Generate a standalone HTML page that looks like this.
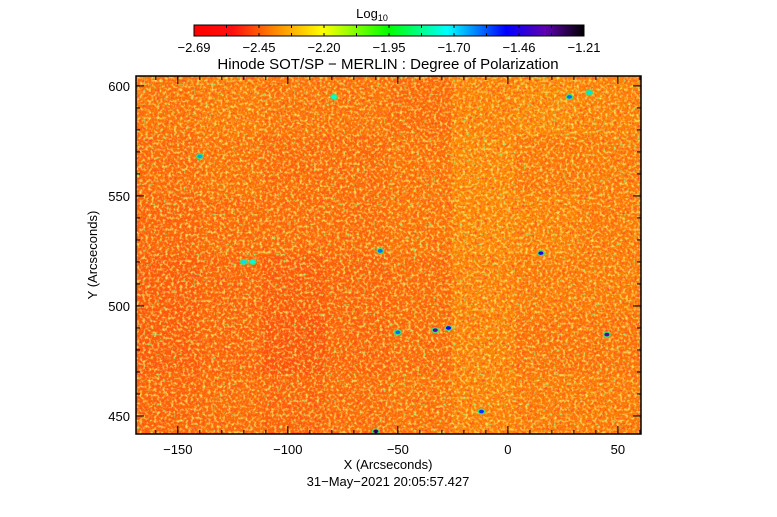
<!DOCTYPE html>
<html><head><meta charset="utf-8"><style>
body{margin:0;background:#fff;}
svg text{font-family:"Liberation Sans",sans-serif;fill:#000;}
</style></head><body>
<svg id="c" width="777" height="512" viewBox="0 0 777 512">
<defs>
<linearGradient id="cb" x1="0" x2="1">
<stop offset="0" stop-color="#ff0000"/><stop offset="0.1" stop-color="#ff1010"/><stop offset="0.2" stop-color="#ff8000"/><stop offset="0.33" stop-color="#ffff00"/><stop offset="0.5" stop-color="#00ff00"/><stop offset="0.65" stop-color="#00ffff"/><stop offset="0.8" stop-color="#0000ff"/><stop offset="0.9" stop-color="#6000b0"/><stop offset="1" stop-color="#000000"/>
</linearGradient>
<filter id="speck" x="0" y="0" width="100%" height="100%">
<feTurbulence type="fractalNoise" baseFrequency="0.35" numOctaves="2" seed="3"/>
<feColorMatrix type="matrix" values="0 0 0 0 1  0 0 0 0 0.9  0 0 0 0 0.15  0 0 0 3 -1.4"/>
</filter>
<filter id="speckr" x="0" y="0" width="100%" height="100%">
<feTurbulence type="fractalNoise" baseFrequency="0.4" numOctaves="2" seed="11"/>
<feColorMatrix type="matrix" values="0 0 0 0 1  0 0 0 0 0.05  0 0 0 0 0.05  0 0 0 3 -1.45"/>
</filter>
<filter id="speckg" x="0" y="0" width="100%" height="100%">
<feTurbulence type="fractalNoise" baseFrequency="0.3" numOctaves="1" seed="7"/>
<feColorMatrix type="matrix" values="0 0 0 0 0.3  0 0 0 0 0.9  0 0 0 0 0.2  0 0 0 6 -3.9"/>
</filter>
</defs>
<g id="plot"></g>
</svg>
<script>
const xMin=-169, xMax=60.5, yMin=441.8, yMax=604.5;
const cMin=-2.69, cMax=-1.21;
// coarse grid of mean log10 degree of polarization (rows top->bottom, cols left->right)
const gridRow0=[-2.41,-2.40,-2.41,-2.41,-2.42,-2.39,-2.38,-2.39];
const gridRow1=[-2.42,-2.41,-2.42,-2.42,-2.41,-2.38,-2.40,-2.40];
const gridRow2=[-2.43,-2.42,-2.42,-2.42,-2.41,-2.38,-2.39,-2.40];
const gridRow3=[-2.44,-2.43,-2.44,-2.43,-2.42,-2.39,-2.40,-2.40];
const gridRow4=[-2.44,-2.43,-2.45,-2.43,-2.42,-2.39,-2.41,-2.41];
const gridRow5=[-2.43,-2.42,-2.43,-2.42,-2.41,-2.39,-2.40,-2.40];
const spotX=[-60,-33,-27,15,45,-120,-58,28,37,-12,-79,-50,-140,-116];
const spotY=[443,489,490,524,487,520,525,595,597,452,595,488,568,520];
const spotV=[-1.30,-1.35,-1.50,-1.45,-1.35,-1.70,-1.60,-1.60,-1.70,-1.55,-1.75,-1.60,-1.65,-1.75];
const xTicks=[-150,-100,-50,0,50];
const yTicks=[450,500,550,600];
const cbLabels=["-2.69","-2.45","-2.20","-1.95","-1.70","-1.46","-1.21"];

const L=136,R=641,T=76,B=434;
const sx=v=>L+(v-xMin)/(xMax-xMin)*(R-L);
const sy=v=>B-(v-yMin)/(yMax-yMin)*(B-T);
const stops=[[0,[255,0,0]],[0.1,[255,16,16]],[0.2,[255,128,0]],[0.33,[255,255,0]],[0.5,[0,255,0]],[0.65,[0,255,255]],[0.8,[0,0,255]],[0.9,[96,0,176]],[1,[0,0,0]]];
function cmap(v){let f=Math.max(0,Math.min(1,(v-cMin)/(cMax-cMin)));for(let i=1;i<stops.length;i++){if(f<=stops[i][0]){const a=stops[i-1],b=stops[i],t=(f-a[0])/(b[0]-a[0]);return 'rgb('+a[1].map((c,k)=>Math.round(c+(b[1][k]-c)*t)).join(',')+')';}}return 'rgb(0,0,0)';}
const NS='http://www.w3.org/2000/svg';
const g=document.getElementById('plot');
function el(t,a,p){const e=document.createElementNS(NS,t);for(const k in a)e.setAttribute(k,a[k]);(p||g).appendChild(e);return e;}
const grid=[gridRow0,gridRow1,gridRow2,gridRow3,gridRow4,gridRow5];
const cw=(R-L)/8, ch=(B-T)/6;
grid.forEach((row,r)=>row.forEach((v,c)=>{
 const e=el('rect',{x:L+c*cw,y:T+r*ch,width:cw+0.5,height:ch+0.5,fill:cmap(v)});
 
 
}));
const sr=el('rect',{x:L,y:T,width:R-L,height:B-T,fill:'#000',filter:'url(#speckr)',opacity:0.8});


const sp=el('rect',{x:L,y:T,width:R-L,height:B-T,fill:'#000',filter:'url(#speck)',opacity:0.85});


const sg=el('rect',{x:L,y:T,width:R-L,height:B-T,fill:'#000',filter:'url(#speckg)',opacity:0.9});


spotX.forEach((x,i)=>{
 const h=el('ellipse',{cx:sx(x),cy:sy(spotY[i]),rx:4,ry:3,fill:'#40e070'});
 
 
 const e=el('ellipse',{cx:sx(x),cy:sy(spotY[i]),rx:2.5,ry:1.8,fill:cmap(spotV[i])});
 
 
});
const fr=el('rect',{x:L,y:T,width:R-L,height:B-T,fill:'none',stroke:'#000','stroke-width':1.5});


xTicks.forEach(t=>{
 const x=sx(t);
 el('line',{x1:x,x2:x,y1:B,y2:B-8,stroke:'#000'});
 el('line',{x1:x,x2:x,y1:T,y2:T+8,stroke:'#000'});
 const e=el('text',{x:x,y:B+20,'text-anchor':'middle','font-size':13});e.textContent=(t<0?'\u2212'+(-t):t);
 
 
});
for(let t=-160;t<=60;t+=10){const x=sx(t);el('line',{x1:x,x2:x,y1:B,y2:B-4,stroke:'#000'});el('line',{x1:x,x2:x,y1:T,y2:T+4,stroke:'#000'});}
yTicks.forEach(t=>{
 const y=sy(t);
 el('line',{x1:L,x2:L+8,y1:y,y2:y,stroke:'#000'});
 el('line',{x1:R,x2:R-8,y1:y,y2:y,stroke:'#000'});
 const e=el('text',{x:L-6,y:y+5,'text-anchor':'end','font-size':13});e.textContent=t;
 
 
});
for(let t=450;t<=600;t+=10){const y=sy(t);el('line',{x1:L,x2:L+4,y1:y,y2:y,stroke:'#000'});el('line',{x1:R,x2:R-4,y1:y,y2:y,stroke:'#000'});}
function txt(s,a,name){const e=el('text',a);e.textContent=s;return e;}
txt('X (Arcseconds)',{x:388,y:469,'text-anchor':'middle','font-size':13},'x-axis-title');
txt('31\u2212May\u22122021 20:05:57.427',{x:388,y:486,'text-anchor':'middle','font-size':13},'timestamp');
txt('Y (Arcseconds)',{x:97,y:255,'text-anchor':'middle','font-size':13,transform:'rotate(-90 97 255)'},'y-axis-title');
txt('Hinode SOT/SP \u2212 MERLIN : Degree of Polarization',{x:388,y:69,'text-anchor':'middle','font-size':15},'chart-title');
const cbr=el('rect',{x:194,y:25,width:390,height:11,fill:'url(#cb)',stroke:'#000','stroke-width':1});


for(let i=1;i<12;i++){const x=194+i*390/12;el('line',{x1:x,x2:x,y1:25,y2:28,stroke:'#000'});el('line',{x1:x,x2:x,y1:36,y2:33,stroke:'#000'});}
cbLabels.forEach((s,i)=>{
 const x=194+i*390/6;
 txt(s.replace('-','\u2212'),{x:x,y:52,'text-anchor':'middle','font-size':13},'colorbar-tick-label');
});
const lg=txt('Log',{x:372,y:18,'text-anchor':'middle','font-size':13},'colorbar-title');
const sub=document.createElementNS(NS,'tspan');sub.setAttribute('font-size','9');sub.setAttribute('dy','3');sub.textContent='10';lg.appendChild(sub);
</script>
</body></html>
